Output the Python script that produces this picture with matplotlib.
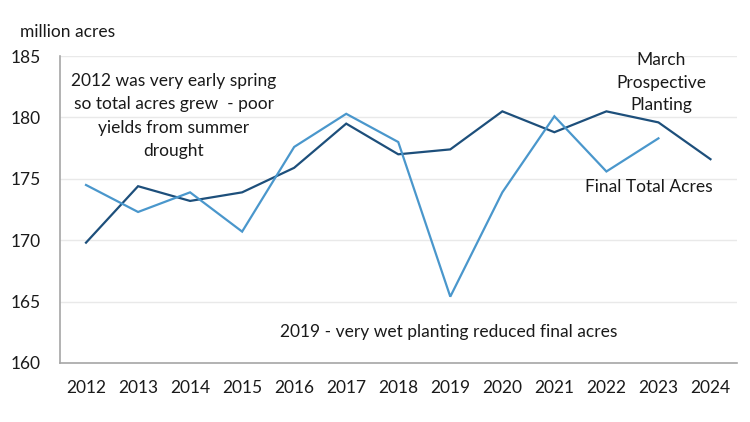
import matplotlib
matplotlib.use("Agg")
import matplotlib.pyplot as plt

years = ["2012", "2013", "2014", "2015", "2016", "2017", "2018",
         "2019", "2020", "2021", "2022", "2023", "2024"]
march_prospective = [169.8, 174.4, 173.2, 173.9, 175.9, 179.5, 177.0,
                     177.4, 180.5, 178.8, 180.5, 179.6, 176.6]
final_total = [174.5, 172.3, 173.9, 170.7, 177.6, 180.3, 178.0,
               165.4, 173.9, 180.1, 175.6, 178.3]
y_ticks = [160, 165, 170, 175, 180, 185]

plt.rcParams['font.family'] = ['Lato', 'DejaVu Sans']
dark = "#1d4f7b"
light = "#4a97cc"
txt = "#1a1a1a"

fig = plt.figure(figsize=(7.5, 4.22), dpi=100)
ax = fig.add_axes([0.08, 0.14, 0.902, 0.727])

x = list(range(len(years)))
ax.plot(x, march_prospective, color=dark, lw=1.6, solid_joinstyle='miter')
ax.plot(x[:len(final_total)], final_total, color=light, lw=1.6, solid_joinstyle='miter')

ax.set_xlim(-0.5, len(years) - 0.5)
ax.set_ylim(160, 185)
ax.set_xticks(x)
ax.set_xticklabels(years)
ax.set_yticks(y_ticks)
ax.tick_params(axis='both', length=0, labelsize=12.5, colors=txt)
ax.tick_params(axis='x', pad=12)
ax.tick_params(axis='y', pad=14)
ax.grid(axis='y', color="#e9e9e9", lw=1)
ax.set_axisbelow(True)
for s in ["top", "right"]:
    ax.spines[s].set_visible(False)
for s in ["left", "bottom"]:
    ax.spines[s].set_color("#a6a6a6")
    ax.spines[s].set_linewidth(1.2)

fig.text(0.027, 0.925, "million acres", fontsize=12.5, color=txt, ha='left', va='center')

ax.text(1.69, 183.6, "2012 was very early spring\nso total acres grew  - poor\nyields from summer\ndrought",
        fontsize=12.5, color=txt, ha='center', va='top', linespacing=1.55)
ax.text(11.05, 185.3, "March\nProspective\nPlanting", fontsize=12.5, color=txt,
        ha='center', va='top', linespacing=1.5)
ax.text(10.82, 174.3, "Final Total Acres", fontsize=12.5, color=txt, ha='center', va='center')
ax.text(6.96, 162.5, "2019 - very wet planting reduced final acres", fontsize=12.5,
        color=txt, ha='center', va='center')

fig.savefig("out.png", dpi=100)
